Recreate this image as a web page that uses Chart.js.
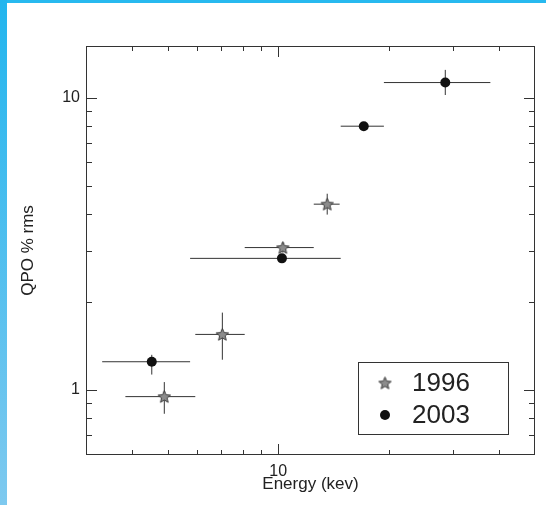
<!DOCTYPE html>
<html>
<head>
<meta charset="utf-8">
<script src="https://cdn.jsdelivr.net/npm/chart.js@4.4.1/dist/chart.umd.min.js"></script>
<style>
  html, body { margin: 0; padding: 0; background: #fff; }
  #wrap { position: relative; width: 546px; height: 505px; overflow: hidden; }
  #c { position: absolute; left: 0; top: 0; }
  .bar-top { position: absolute; left: 0; top: 0; width: 546px; height: 3px; background: #27b9ef; }
  .bar-left { position: absolute; left: 0; top: 0; width: 7px; height: 505px;
              background: linear-gradient(to bottom, #22b5ee, #7ec9ef); }
</style>
</head>
<body>
<div id="wrap">
  <canvas id="c" width="546" height="505"></canvas>
  <div class="bar-top"></div>
  <div class="bar-left"></div>
</div>
<script>
// --- Daten ---
const e1996 = [4.90, 7.05, 10.3, 13.6];
const e1996Lo = [3.84, 5.95, 8.11, 12.5];
const e1996Hi = [5.95, 8.11, 12.5, 14.7];
const rms1996 = [0.95, 1.55, 3.07, 4.32];
const rms1996Lo = [0.83, 1.27, 2.95, 3.98];
const rms1996Hi = [1.065, 1.84, 3.2, 4.69];

const e2003 = [4.53, 10.24, 17.1, 28.5];
const e2003Lo = [3.32, 5.76, 14.8, 19.4];
const e2003Hi = [5.76, 14.8, 19.4, 37.8];
const rms2003 = [1.25, 2.82, 7.98, 11.25];
const rms2003Lo = [1.13, 2.74, 7.7, 10.2];
const rms2003Hi = [1.32, 2.9, 8.25, 12.43];

const xLabels = [10];
const yLabels = [1, 10];

const FONT = "'Liberation Sans', Arial, Helvetica, sans-serif";
const INK = "#222";

// Stern-Marker als Bild (Chart.js hat nur den Strich-Stern)
function starImage(r) {
  const s = Math.ceil(r * 2 + 4);
  const cv = document.createElement("canvas");
  cv.width = s; cv.height = s;
  const g = cv.getContext("2d");
  g.translate(s / 2, s / 2 + 0.5);
  g.beginPath();
  for (let i = 0; i < 10; i++) {
    const rr = i % 2 ? r * 0.45 : r;
    const a = -Math.PI / 2 + i * Math.PI / 5;
    g.lineTo(rr * Math.cos(a), rr * Math.sin(a));
  }
  g.closePath();
  g.fillStyle = "#8c8c8c";
  g.fill();
  g.strokeStyle = "#3a3a3a";
  g.lineWidth = 1;
  g.stroke();
  return cv;
}
const STAR = starImage(6.5);

function points(xs, ys) { return xs.map((x, i) => ({ x, y: ys[i] })); }

// Fehlerbalken als unterbrochene Linien (null = Lücke)
function errorSegments(xs, xlo, xhi, ys, ylo, yhi) {
  const out = [];
  xs.forEach((x, i) => {
    out.push({ x: xlo[i], y: ys[i] }, { x: xhi[i], y: ys[i] }, { x: null, y: null });
    out.push({ x, y: ylo[i] }, { x, y: yhi[i] }, { x: null, y: null });
  });
  return out;
}

function errDs(data) {
  return {
    label: "", data, showLine: true, spanGaps: false, borderColor: "#333",
    borderWidth: 1, pointRadius: 0, order: 2,
  };
}

const isPow10 = (v) => Math.abs(Math.log10(v) - Math.round(Math.log10(v))) < 1e-9;
const isIntMantissa = (v) => {
  const m = v / Math.pow(10, Math.floor(Math.log10(v) + 1e-9));
  return Math.abs(m - Math.round(m)) < 1e-6;
};

// Rahmen + nach innen zeigende Ticks auf allen vier Seiten
const frameTicks = {
  id: "frameTicks",
  afterDatasetsDraw(chart) {
    const { ctx, chartArea: a, scales } = chart;
    ctx.save();
    ctx.strokeStyle = "#333";
    ctx.lineWidth = 1;
    ctx.strokeRect(a.left + 0.5, a.top + 0.5, a.right - a.left - 1, a.bottom - a.top - 1);
    ctx.beginPath();
    scales.x.ticks.forEach((t) => {
      const v = t.value;
      if (v <= scales.x.min || v >= scales.x.max || !isIntMantissa(v)) return;
      const px = Math.round(scales.x.getPixelForValue(v)) + 0.5;
      const len = isPow10(v) ? 11 : 5;
      ctx.moveTo(px, a.bottom); ctx.lineTo(px, a.bottom - len);
      ctx.moveTo(px, a.top); ctx.lineTo(px, a.top + len);
    });
    scales.y.ticks.forEach((t) => {
      const v = t.value;
      if (v <= scales.y.min || v >= scales.y.max || !isIntMantissa(v)) return;
      const py = Math.round(scales.y.getPixelForValue(v)) + 0.5;
      const len = isPow10(v) ? 11 : 6;
      ctx.moveTo(a.left, py); ctx.lineTo(a.left + len, py);
      ctx.moveTo(a.right, py); ctx.lineTo(a.right - len, py);
    });
    ctx.stroke();
    ctx.restore();
  },
};

// Legende im Diagramm (unten rechts)
const boxLegend = {
  id: "boxLegend",
  afterDraw(chart) {
    const { ctx } = chart;
    const items = chart.data.datasets.filter((d) => d.label);
    const x0 = 358, y0 = 362, w = 151, h = 73;
    ctx.save();
    ctx.fillStyle = "#fff";
    ctx.fillRect(x0, y0, w, h);
    ctx.strokeStyle = "#333";
    ctx.lineWidth = 1;
    ctx.strokeRect(x0 + 0.5, y0 + 0.5, w - 1, h - 1);
    items.forEach((d, i) => {
      const cy = y0 + 21 + i * 32;
      if (d.pointStyle === "circle") {
        ctx.beginPath();
        ctx.arc(x0 + 27, cy, 5, 0, Math.PI * 2);
        ctx.fillStyle = d.backgroundColor;
        ctx.fill();
      } else {
        ctx.drawImage(STAR, x0 + 27 - STAR.width / 2, cy - STAR.height / 2);
      }
      ctx.fillStyle = INK;
      ctx.font = "26px " + FONT;
      ctx.textBaseline = "middle";
      ctx.fillText(d.label, x0 + 54, cy + 1);
    });
    ctx.restore();
  },
};

new Chart(document.getElementById("c"), {
  type: "scatter",
  data: {
    datasets: [
      { label: "1996", data: points(e1996, rms1996), pointStyle: STAR, pointRadius: 7,
        backgroundColor: "#8c8c8c", borderColor: "#3a3a3a", order: 1 },
      { label: "2003", data: points(e2003, rms2003), pointStyle: "circle", pointRadius: 5,
        backgroundColor: "#111", borderColor: "#111", borderWidth: 0, order: 0 },
      errDs(errorSegments(e1996, e1996Lo, e1996Hi, rms1996, rms1996Lo, rms1996Hi)),
      errDs(errorSegments(e2003, e2003Lo, e2003Hi, rms2003, rms2003Lo, rms2003Hi)),
    ],
  },
  options: {
    responsive: false, animation: false, events: [],
    layout: { padding: { left: 0, top: 46, right: 11, bottom: 0 } },
    plugins: { legend: { display: false }, tooltip: { enabled: false } },
    scales: {
      x: {
        type: "logarithmic", min: 3, max: 50,
        grid: { display: false, drawTicks: false }, border: { display: false },
        ticks: {
          autoSkip: false, maxRotation: 0, padding: 7, color: INK, font: { family: FONT, size: 16 },
          callback: (v) => (xLabels.some((l) => Math.abs(l - v) < 1e-9) ? String(v) : ""),
        },
        title: { display: true, text: "Energy (kev)", color: INK, font: { family: FONT, size: 17 },
                 padding: { top: 0, bottom: 10 } },
        afterFit: (s) => { s.height = 50; },
      },
      y: {
        type: "logarithmic", min: 0.6, max: 15,
        grid: { display: false, drawTicks: false }, border: { display: false },
        ticks: {
          autoSkip: false, padding: 6, color: INK, font: { family: FONT, size: 16 },
          callback: (v) => (yLabels.some((l) => Math.abs(l - v) < 1e-9) ? String(v) : ""),
        },
        title: { display: true, text: "QPO % rms", color: INK, font: { family: FONT, size: 17 },
                 padding: { top: 18, bottom: 0 } },
        afterFit: (s) => { s.width = 86; },
      },
    },
  },
  plugins: [frameTicks, boxLegend],
});
</script>
</body>
</html>
